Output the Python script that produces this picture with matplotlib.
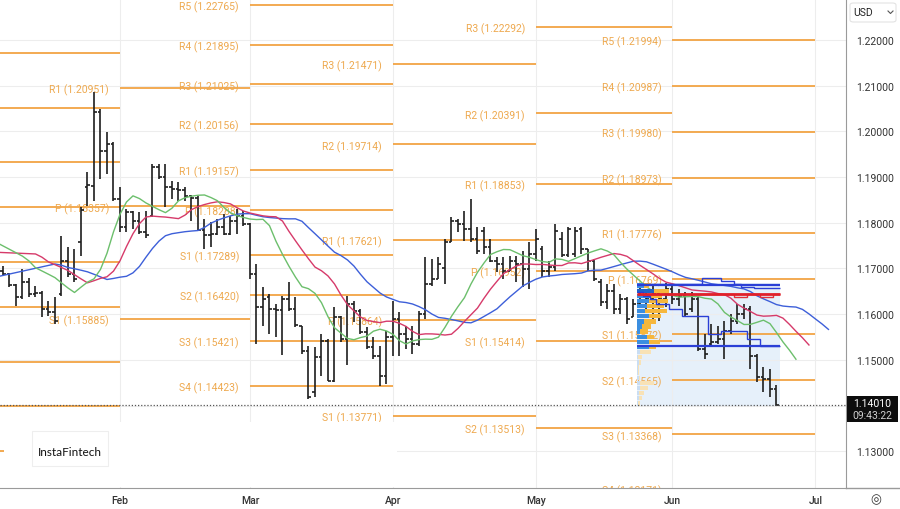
import numpy as np
import pandas as pd
import matplotlib.pyplot as plt
from matplotlib.patches import Rectangle, FancyBboxPatch
from matplotlib.lines import Line2D

plt.rcParams['font.family'] = ['Roboto', 'DejaVu Sans']

# Daily EUR/USD bars, 7 Jan 2026 - 23 Jun 2026 (weekdays)
dates = pd.bdate_range('2026-01-07', '2026-06-23')

opens = [
    # Jan
    1.1694, 1.1688, 1.1664, 1.1638, 1.1671, 1.1644, 1.1646, 1.1611, 1.1605, 1.1644,
    1.1716, 1.1688, 1.1758, 1.1878, 1.1880, 1.2042, 1.1957, 1.1972,
    # Feb
    1.1852, 1.1791, 1.1823, 1.1804, 1.1780, 1.1814, 1.1922, 1.1900, 1.1878, 1.1874,
    1.1871, 1.1858, 1.1854, 1.1784, 1.1773, 1.1775, 1.1791, 1.1775, 1.1804, 1.1815,
    # Mar
    1.1797, 1.1688, 1.1615, 1.1637, 1.1611, 1.1609, 1.1633, 1.1611, 1.1574, 1.1519,
    1.1429, 1.1506, 1.1541, 1.1454, 1.1593, 1.1546, 1.1622, 1.1607, 1.1561, 1.1528,
    1.1508, 1.1465,
    # Apr
    1.1550, 1.1589, 1.1557, 1.1546, 1.1535, 1.1600, 1.1666, 1.1677, 1.1700, 1.1758,
    1.1804, 1.1797, 1.1786, 1.1764, 1.1782, 1.1747, 1.1716, 1.1710, 1.1694, 1.1716,
    1.1710, 1.1699,
    # May
    1.1732, 1.1742, 1.1694, 1.1703, 1.1764, 1.1729, 1.1732, 1.1786, 1.1742, 1.1716,
    1.1670, 1.1626, 1.1651, 1.1611, 1.1633, 1.1593, 1.1622, 1.1651, 1.1633, 1.1644,
    1.1633,
    # Jun
    1.1655, 1.1633, 1.1640, 1.1611, 1.1633, 1.1524, 1.1535, 1.1539, 1.1546, 1.1563,
    1.1585, 1.1600, 1.1611, 1.1508, 1.1462, 1.1458, 1.1436,
]
highs = [
    1.1705, 1.1690, 1.1666, 1.1699, 1.1679, 1.1662, 1.1651, 1.1629, 1.1638, 1.1771,
    1.1747, 1.1742, 1.1834, 1.1911, 1.2086, 1.2049, 1.1999, 1.1977,
    1.1878, 1.1830, 1.1826, 1.1823, 1.1826, 1.1929, 1.1929, 1.1929, 1.1891, 1.1889,
    1.1878, 1.1861, 1.1858, 1.1808, 1.1802, 1.1808, 1.1819, 1.1815, 1.1830, 1.1826,
    1.1800, 1.1710, 1.1659, 1.1644, 1.1622, 1.1640, 1.1670, 1.1637, 1.1574, 1.1530,
    1.1528, 1.1557, 1.1546, 1.1615, 1.1596, 1.1640, 1.1629, 1.1611, 1.1572, 1.1550,
    1.1530, 1.1563,
    1.1629, 1.1604, 1.1574, 1.1574, 1.1607, 1.1725, 1.1721, 1.1725, 1.1764, 1.1812,
    1.1808, 1.1826, 1.1852, 1.1790, 1.1790, 1.1764, 1.1725, 1.1725, 1.1727, 1.1727,
    1.1738, 1.1758,
    1.1786, 1.1749, 1.1716, 1.1797, 1.1779, 1.1790, 1.1790, 1.1790, 1.1742, 1.1721,
    1.1677, 1.1666, 1.1666, 1.1644, 1.1638, 1.1633, 1.1659, 1.1655, 1.1666, 1.1655,
    1.1668,
    1.1661, 1.1655, 1.1648, 1.1648, 1.1640, 1.1557, 1.1578, 1.1574, 1.1585, 1.1600,
    1.1622, 1.1622, 1.1618, 1.1513, 1.1484, 1.1480, 1.1445,
]
lows = [
    1.1683, 1.1659, 1.1618, 1.1633, 1.1638, 1.1638, 1.1594, 1.1596, 1.1578, 1.1640,
    1.1681, 1.1670, 1.1727, 1.1837, 1.1848, 1.1896, 1.1907, 1.1848,
    1.1780, 1.1780, 1.1786, 1.1775, 1.1767, 1.1812, 1.1896, 1.1834, 1.1852, 1.1848,
    1.1848, 1.1804, 1.1782, 1.1742, 1.1747, 1.1773, 1.1773, 1.1773, 1.1775, 1.1793,
    1.1677, 1.1535, 1.1574, 1.1557, 1.1550, 1.1511, 1.1607, 1.1572, 1.1513, 1.1414,
    1.1419, 1.1465, 1.1454, 1.1451, 1.1539, 1.1489, 1.1583, 1.1557, 1.1524, 1.1502,
    1.1443, 1.1447,
    1.1508, 1.1508, 1.1524, 1.1513, 1.1530, 1.1589, 1.1662, 1.1677, 1.1666, 1.1758,
    1.1779, 1.1760, 1.1758, 1.1732, 1.1732, 1.1714, 1.1692, 1.1677, 1.1694, 1.1670,
    1.1659, 1.1655,
    1.1716, 1.1681, 1.1681, 1.1694, 1.1725, 1.1725, 1.1725, 1.1732, 1.1694, 1.1673,
    1.1618, 1.1611, 1.1600, 1.1600, 1.1578, 1.1593, 1.1622, 1.1611, 1.1585, 1.1585,
    1.1615,
    1.1622, 1.1618, 1.1593, 1.1604, 1.1519, 1.1502, 1.1528, 1.1535, 1.1502, 1.1557,
    1.1578, 1.1589, 1.1480, 1.1451, 1.1429, 1.1418, 1.1399,
]
closes = [
    1.1688, 1.1664, 1.1638, 1.1671, 1.1644, 1.1646, 1.1611, 1.1605, 1.1585, 1.1716,
    1.1688, 1.1677, 1.1828, 1.1882, 1.2042, 1.1957, 1.1972, 1.1852,
    1.1791, 1.1823, 1.1804, 1.1780, 1.1773, 1.1922, 1.1900, 1.1878, 1.1874, 1.1871,
    1.1858, 1.1854, 1.1784, 1.1773, 1.1775, 1.1791, 1.1775, 1.1804, 1.1815, 1.1797,
    1.1688, 1.1615, 1.1633, 1.1611, 1.1609, 1.1633, 1.1611, 1.1576, 1.1519, 1.1419,
    1.1506, 1.1541, 1.1454, 1.1593, 1.1546, 1.1622, 1.1607, 1.1561, 1.1528, 1.1508,
    1.1465, 1.1550,
    1.1589, 1.1557, 1.1546, 1.1535, 1.1600, 1.1666, 1.1677, 1.1710, 1.1758, 1.1804,
    1.1797, 1.1786, 1.1764, 1.1738, 1.1747, 1.1716, 1.1710, 1.1694, 1.1716, 1.1710,
    1.1699, 1.1732,
    1.1764, 1.1694, 1.1703, 1.1782, 1.1729, 1.1786, 1.1782, 1.1742, 1.1716, 1.1677,
    1.1626, 1.1651, 1.1611, 1.1633, 1.1589, 1.1622, 1.1651, 1.1633, 1.1644, 1.1633,
    1.1655,
    1.1633, 1.1640, 1.1600, 1.1633, 1.1524, 1.1513, 1.1539, 1.1546, 1.1563, 1.1585,
    1.1600, 1.1611, 1.1508, 1.1462, 1.1458, 1.1436, 1.1401,
]
last_price = 1.14010
last_time = '09:43:22'

# Alligator (SMMA of median price): period, shift, colour, value at left edge, seed
alligator = [
    ('jaw', 13, 8, '#3d5fd9', 1.1683, 1.1711),
    ('teeth', 8, 5, '#d63a6a', 1.1735, 1.1737),
    ('lips', 5, 3, '#6cbf6c', 1.1753, 1.1735),
]

# Monthly standard pivot points: (segment start, segment end, show labels, levels)
pivots = [
    ('2025-12-20', '2026-02-02', False,
     [('R4', 1.2172), ('R3', 1.2052), ('R2', 1.1932), ('R1', 1.1834), ('P', 1.1714),
      ('S1', 1.1616), ('S2', 1.1496), ('S3', 1.1398), ('S4', 1.1300)]),
    ('2026-02-02', '2026-03-02', True,
     [('R1', 1.20951), ('P', 1.18357), ('S1', 1.15885)]),
    ('2026-03-02', '2026-04-01', True,
     [('R5', 1.22765), ('R4', 1.21895), ('R3', 1.21025), ('R2', 1.20156), ('R1', 1.19157),
      ('P', 1.18288), ('S1', 1.17289), ('S2', 1.16420), ('S3', 1.15421), ('S4', 1.14423)]),
    ('2026-04-01', '2026-05-01', True,
     [('R3', 1.21471), ('R2', 1.19714), ('R1', 1.17621), ('P', 1.15864), ('S1', 1.13771)]),
    ('2026-05-01', '2026-06-01', True,
     [('R3', 1.22292), ('R2', 1.20391), ('R1', 1.18853), ('P', 1.16952), ('S1', 1.15414),
      ('S2', 1.13513)]),
    ('2026-06-01', '2026-07-01', True,
     [('R5', 1.21994), ('R4', 1.20987), ('R3', 1.19980), ('R2', 1.18973), ('R1', 1.17776),
      ('P', 1.16769), ('S1', 1.15572), ('S2', 1.14565), ('S3', 1.13368), ('S4', 1.12171)]),
]

# Fixed range volume profile (25 May - 23 Jun), rows from top to bottom
vp_start, vp_end = '2026-05-25', '2026-06-23'
vp_high, vp_low = 1.1668, 1.1399
vp_up = [7, 18, 13, 12, 10, 8, 12, 7, 5, 3, 10, 12, 12, 3, 1, 2, 1, 1, 2, 3, 3, 2, 2, 1]
vp_down = [5, 15, 13, 20, 18, 23, 13, 13, 10, 8, 8, 12, 8, 12, 4, 2, 1, 1, 1, 15, 8, 5, 3, 2]
vp_value_rows = 13
poc, vah, val = 1.1644, 1.1664, 1.1530
dev_vah = [1.1665] * 10 + [1.1679] * 3 + [1.1672] * 2 + [1.1665] + [1.1659] * 2 + [1.1657] * 4
dev_poc = [1.1644] * 15 + [1.1638] * 2 + [1.1644] * 2 + [1.1638] * 2 + [1.1644]
dev_val = [1.1648, 1.1640, 1.1633, 1.1622, 1.1622, 1.1611, 1.1611, 1.1596, 1.1596, 1.1596,
           1.1596, 1.1557, 1.1557, 1.1563, 1.1563, 1.1563, 1.1563, 1.1546, 1.1546, 1.1530,
           1.1530, 1.1530]

price_ticks = [1.13, 1.14, 1.15, 1.16, 1.17, 1.18, 1.19, 1.20, 1.21, 1.22]
month_labels = ['Feb', 'Mar', 'Apr', 'May', 'Jun', 'Jul']

# ---------------------------------------------------------------------------

opens, highs, lows, closes = map(np.array, (opens, highs, lows, closes))
n = len(dates)
idx = np.arange(n)


def bar_pos(day):
    # bar index of a date (counting weekdays, also past the last bar)
    return np.busday_count(np.datetime64(dates[0].date()), np.datetime64(pd.Timestamp(day).date()))


fig = plt.figure(figsize=(9, 5.1), dpi=100)
ax = fig.add_axes([0, 21 / 510, 846 / 900, 489 / 510])
ax.set_xlim(-0.46, 129.7)
ax.set_ylim(1.12195, 1.22895)

month_pos = [bar_pos(f'2026-{m:02d}-01') for m in range(2, 8)]
ax.set_xticks(month_pos)
ax.set_xticklabels(month_labels)
ax.set_yticks(price_ticks)
# the 1.14000 label sits under the last price box
ax.set_yticklabels(['' if abs(p - last_price) < 0.003 else f'{p:.5f}' for p in price_ticks])
ax.yaxis.tick_right()
ax.tick_params(axis='y', length=0, pad=7, labelsize=7.5, labelcolor='#333333')
ax.tick_params(axis='x', length=0, pad=5, labelsize=7.5, labelcolor='#333333')
for lab in ax.get_xticklabels():
    lab.set_fontweight('medium')
ax.grid(True, color='#ededed', lw=0.8, zorder=0)
ax.set_axisbelow(True)
for side in ['left', 'top']:
    ax.spines[side].set_visible(False)
ax.spines['right'].set_color('#9a9a9a')
ax.spines['bottom'].set_color('#9a9a9a')

# pivot levels
piv_color = '#f2a444'
for start, end, labelled, levels in pivots:
    x0, x1 = bar_pos(start), bar_pos(end)
    for name, val_ in levels:
        ax.hlines(val_, x0, x1, color=piv_color, lw=1.3, zorder=1)
        if labelled:
            ax.text(x0 - 1.7, val_ - 0.0003, f'{name} ({val_:.5f})', ha='right', va='center',
                    fontsize=7.5, color='#eea94f', clip_on=True, zorder=2)

# volume profile background
v0, v1 = bar_pos(vp_start) - 0.5, bar_pos(vp_end) + 0.5
ax.add_patch(Rectangle((v0, vp_low), v1 - v0, vp_high - vp_low, facecolor='#e6f0fa',
                       edgecolor='none', zorder=0.5))

# OHLC bars
bar_col = '#1e1e1e'
ax.vlines(idx, lows, highs, color=bar_col, lw=1.2, zorder=3)
ax.hlines(opens, idx - 0.45, idx, color=bar_col, lw=1.2, zorder=3)
ax.hlines(closes, idx, idx + 0.45, color=bar_col, lw=1.2, zorder=3)

# Alligator
hl2 = (highs + lows) / 2
for name, period, shift, col, left_val, seed in alligator:
    v = seed
    line = []
    for s in hl2:
        v = (v * (period - 1) + s) / period
        line.append(v)
    ax.plot(np.r_[-0.5, idx + shift], np.r_[left_val, line], color=col, lw=1.0, zorder=4)

# volume profile histogram
rows = len(vp_up)
row_h = (vp_high - vp_low) / rows
scale = 5.0 / max(u + d for u, d in zip(vp_up, vp_down))
for r, (u, d) in enumerate(zip(vp_up, vp_down)):
    top = vp_high - r * row_h
    inside = r < vp_value_rows
    cu = '#3b8ee0' if inside else '#c9ddf3'
    cd = '#f6b73c' if inside else '#f8e2b6'
    if r == 1:
        cu = '#1f63c6'
    ax.add_patch(Rectangle((v0, top - row_h * 0.92), u * scale, row_h * 0.85,
                           facecolor=cu, edgecolor='none', zorder=5))
    ax.add_patch(Rectangle((v0 + u * scale, top - row_h * 0.92), d * scale, row_h * 0.85,
                           facecolor=cd, edgecolor='none', zorder=5))

edges = np.arange(bar_pos(vp_start) - 0.5, bar_pos(vp_end) + 1.0)
for dev, col in [(dev_vah, '#2b3fd6'), (dev_poc, '#e0323a'), (dev_val, '#2b3fd6')]:
    ax.stairs(dev, edges, color=col, lw=1.0, zorder=6, baseline=None)
ax.hlines([vah, val], v0, v1, color='#2b3fd6', lw=1.6, zorder=6)
ax.hlines(poc, v0, v1, color='#e0202a', lw=2.0, zorder=6)

# last price line
ax.axhline(last_price, color='#555555', lw=0.9, ls=(0, (1, 1.5)), zorder=7)

# --- figure-level decorations (pixel positions from the top-left corner) ---
W, H = 900, 510


def fx(x):
    return x / W


def fy(y):
    return 1 - y / H


# logo panel covering the lower left corner
fig.patches.append(Rectangle((fx(4), fy(488)), fx(393), 65 / H, transform=fig.transFigure,
                             facecolor='white', edgecolor='none', zorder=1))
fig.patches.append(Rectangle((fx(32), fy(467)), fx(76), 35 / H, transform=fig.transFigure,
                             facecolor='white', edgecolor='#eeeeee', lw=0.8, zorder=2))
fig.text(fx(70), fy(453), 'InstaFintech', ha='center', va='center', fontsize=8.5,
         color='#111111', family=['Lato', 'DejaVu Sans'], zorder=3)

# bottom border below price scale
fig.lines.append(Line2D([fx(846), 1], [fy(489), fy(489)], transform=fig.transFigure,
                        color='#9a9a9a', lw=1.0))

# last price box
fig.patches.append(Rectangle((fx(847), fy(423)), fx(51), 26 / H, transform=fig.transFigure,
                             facecolor='#0d0d0d', edgecolor='none', zorder=4))
fig.text(fx(872), fy(404), f'{last_price:.5f}', ha='center', va='center', fontsize=7.5,
         color='white', zorder=5)
fig.text(fx(872), fy(416), last_time, ha='center', va='center', fontsize=7.5,
         color='#d0d0d0', zorder=5)

# currency selector
fig.patches.append(FancyBboxPatch((fx(850), fy(23)), fx(46), 19 / H, transform=fig.transFigure,
                                  boxstyle='round,pad=0,rounding_size=0.004',
                                  facecolor='white', edgecolor='#e3e3e3', lw=0.8, zorder=4))
fig.text(fx(853), fy(13), 'USD', ha='left', va='center', fontsize=7.5, color='#222222', zorder=5)
fig.lines.append(Line2D([fx(888), fx(890.5), fx(893)], [fy(12), fy(14.5), fy(12)],
                        transform=fig.transFigure, color='#555555', lw=0.8, zorder=5))

# settings icon
fig.text(fx(876), fy(500), '◎', ha='center', va='center', fontsize=9, color='#333333',
         family=['DejaVu Sans'])

fig.savefig('out.png', dpi=100)
